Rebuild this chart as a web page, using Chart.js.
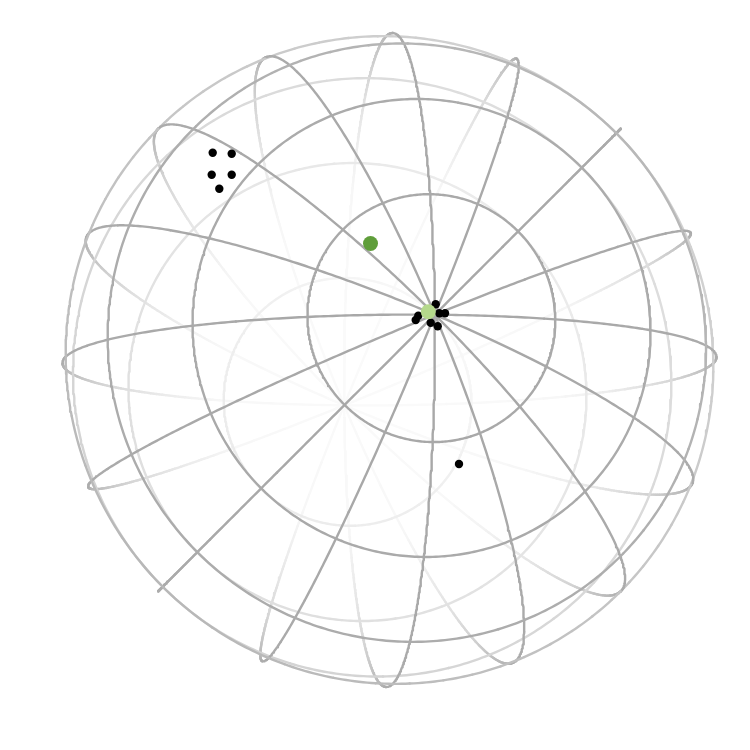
<!DOCTYPE html>
<html>
<head>
<meta charset="utf-8">
<style>html,body{margin:0;padding:0;background:#fff}canvas{display:block}</style>
<script src="https://cdn.jsdelivr.net/npm/chart.js@4"></script>
</head>
<body>
<canvas id="c" width="750" height="750"></canvas>
<script>
const parallels = [-67.5, -45, -22.5, 0, 22.5, 45, 67.5];
const meridians = [0, 22.5, 45, 67.5, 90, 112.5, 135, 157.5];
const blackX = [212.7, 231.7, 211.7, 231.7, 219.3, 459, 435.7, 418.3, 415.7, 430.7, 437.7, 439.3, 445];
const blackY = [152.7, 153.7, 174.7, 174.7, 188.7, 464, 304.3, 315.7, 320, 322.7, 326.3, 313.3, 313.3];
const greenX = [370.5];
const greenY = [243.5];
const paleX = [428.3];
const paleY = [311.7];

// Graticule set-up (view of the sphere)
const CX = 389.5, CY = 360, R = 327, TILT = 11.3 * Math.PI / 180;
const ux = Math.SQRT1_2, uy = -Math.SQRT1_2, vx = Math.SQRT1_2, vy = Math.SQRT1_2;
const st = Math.sin(TILT), ct = Math.cos(TILT);
function project(lat, lon) {
  const a = lat * Math.PI / 180, b = lon * Math.PI / 180;
  const e1 = Math.cos(a) * Math.cos(b), e2 = Math.cos(a) * Math.sin(b), p = Math.sin(a);
  const su = e1 * ct + p * st, sv = e2, z = -e1 * st + p * ct;
  return { x: CX + R * (su * ux + sv * vx), y: CY + R * (su * uy + sv * vy), z };
}
const ringStops = [[-1, 250], [-0.92, 240], [-0.7, 228], [-0.5, 220], [-0.2, 211], [0, 197], [0.2, 184], [0.4, 173], [1, 168]];
const meridianStops = [[-1, 250], [-0.85, 247], [-0.6, 224], [-0.3, 195], [0, 172], [1, 168]];
function greyFor(z, stops) {
  for (let i = 1; i < stops.length; i++) {
    if (z <= stops[i][0]) {
      const [z0, g0] = stops[i - 1], [z1, g1] = stops[i];
      const g = Math.round(g0 + (g1 - g0) * (z - z0) / (z1 - z0));
      return `rgb(${g},${g},${g})`;
    }
  }
  return 'rgb(168,168,168)';
}
function gridDataset(points, front, stops) {
  return {
    data: points, showLine: true, pointRadius: 0, borderWidth: 2.4, fill: false,
    borderColor: '#aaa', borderCapStyle: 'round', borderJoinStyle: 'round', order: front ? 10 : 20,
    segment: { borderColor: c => {
      const z = (c.p0.raw.z + c.p1.raw.z) / 2;
      return (z >= 0) === front ? greyFor(z, stops) : 'rgba(0,0,0,0)';
    } }
  };
}
const steps = [];
for (let i = 0; i <= 480; i++) steps.push(i * 0.75);
const datasets = [];
[false, true].forEach(front => {
  parallels.forEach(lat => datasets.push(gridDataset(steps.map(d => project(lat, d)), front, ringStops)));
  meridians.forEach(lon => datasets.push(gridDataset(steps.map(d => project(d, lon)), front, meridianStops)));
});
const zip = (xs, ys) => xs.map((x, i) => ({ x, y: ys[i] }));
datasets.push({ data: zip(blackX, blackY), pointRadius: 4.2, pointBackgroundColor: '#000', pointBorderWidth: 0, order: 3 });
datasets.push({ data: zip(greenX, greenY), pointRadius: 7.5, pointBackgroundColor: '#5f9e3a', pointBorderWidth: 0, order: 2 });
datasets.push({ data: zip(paleX, paleY), pointRadius: 7.5, pointBackgroundColor: '#b5d98c', pointBorderWidth: 0, order: 1 });

new Chart(document.getElementById('c'), {
  type: 'scatter',
  data: { datasets },
  options: {
    responsive: false, animation: false,
    layout: { padding: 0, autoPadding: false },
    plugins: { legend: { display: false }, tooltip: { enabled: false } },
    scales: {
      x: { display: false, min: 0, max: 750 },
      y: { display: false, min: 0, max: 750, reverse: true }
    }
  }
});
</script>
</body>
</html>
